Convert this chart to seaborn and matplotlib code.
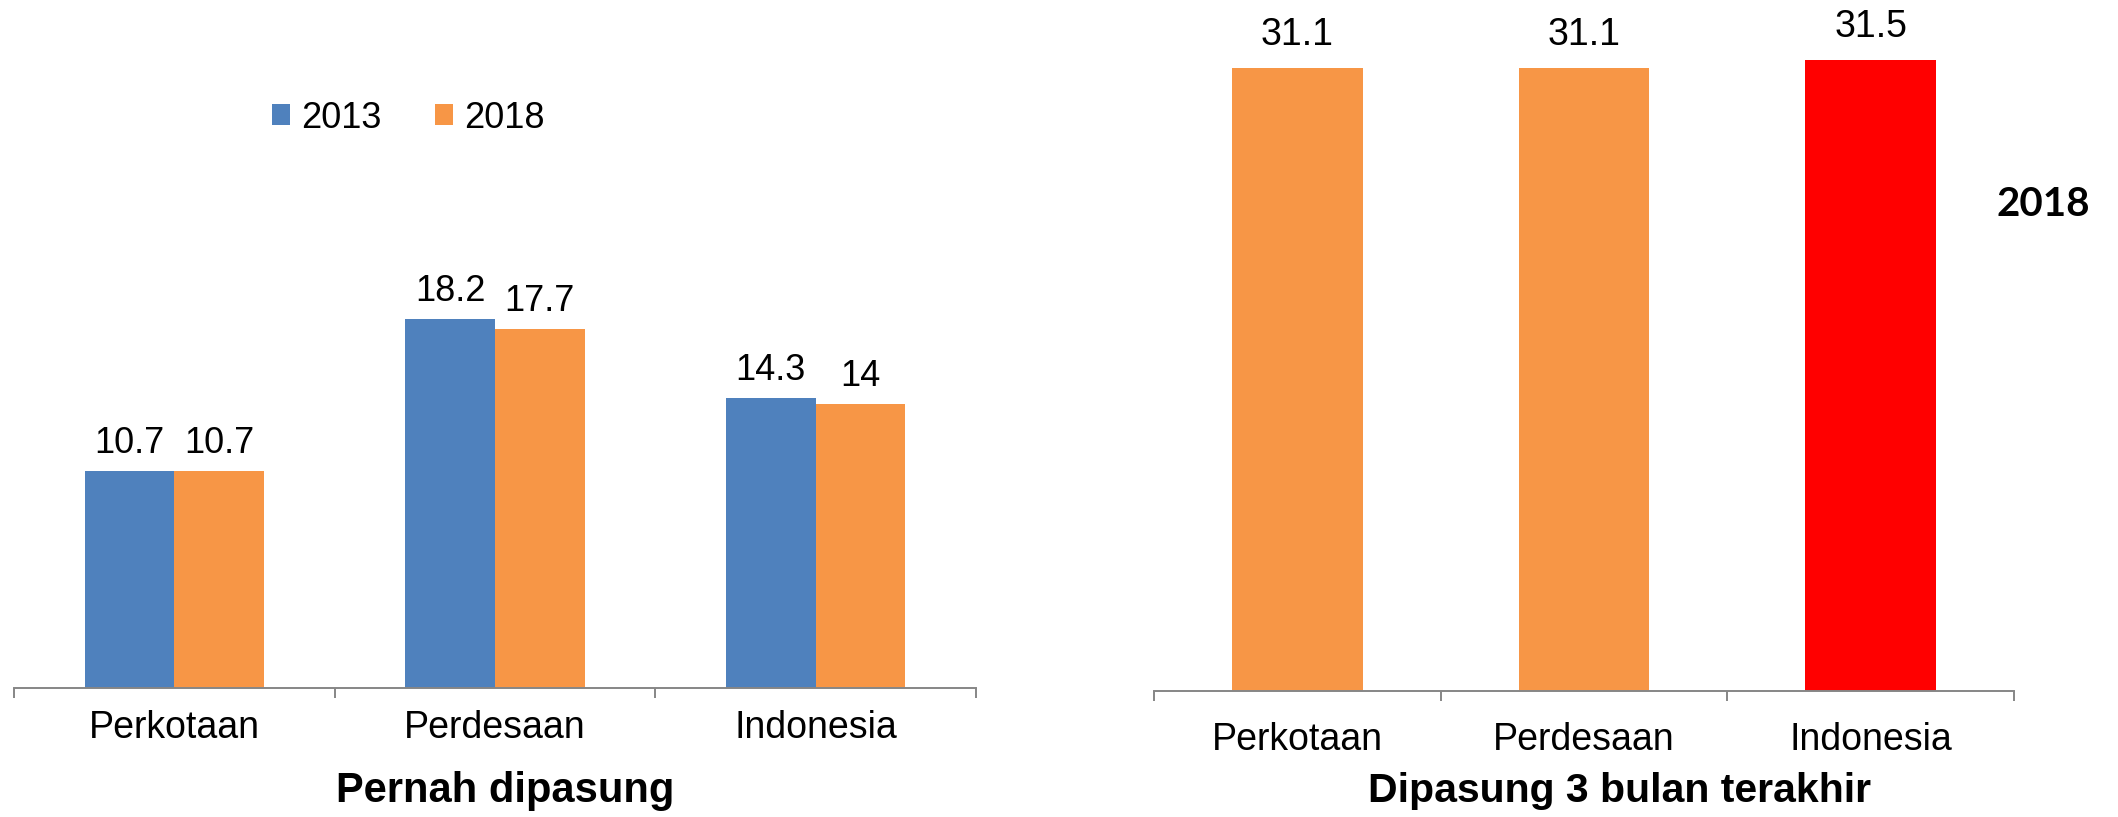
import pandas as pd
import seaborn as sns
import matplotlib
matplotlib.use('Agg')
import matplotlib.pyplot as plt

# data
wilayah = ["Perkotaan", "Perdesaan", "Indonesia"]
pernah_2013 = [10.7, 18.2, 14.3]
pernah_2018 = [10.7, 17.7, 14.0]
tiga_bulan_2018 = [31.1, 31.1, 31.5]
tahun = ["2013", "2018"]

biru = "#4F81BD"
oranye = "#F79646"
merah = "#FF0000"
abu = "#868686"

sns.set_style("white")
plt.rcParams['font.family'] = ['Liberation Sans', 'Arial', 'DejaVu Sans']
plt.rcParams['text.color'] = 'black'

pernah = pd.DataFrame({
    "wilayah": wilayah * 2,
    "tahun": [tahun[0]] * 3 + [tahun[1]] * 3,
    "persen": pernah_2013 + pernah_2018,
})
tiga_bulan = pd.DataFrame({"wilayah": wilayah, "persen": tiga_bulan_2018})

W, H = 2118, 817
fig = plt.figure(figsize=(W / 100, H / 100), dpi=100)

ax1 = fig.add_axes([14 / W, 129 / H, 962 / W, 629 / H])
ax2 = fig.add_axes([1154 / W, 126 / H, 860 / W, 681 / H])

sns.barplot(data=pernah, x="wilayah", y="persen", hue="tahun",
            palette=[biru, oranye], width=0.56, saturation=1, linewidth=0,
            ax=ax1)
sns.barplot(data=tiga_bulan, x="wilayah", y="persen", hue="wilayah",
            palette=[oranye, oranye, merah], width=0.455, saturation=1,
            linewidth=0, legend=False, ax=ax2)

ax1.set_ylim(0, 31)
ax2.set_ylim(0, 34)

for c in ax1.containers:
    ax1.bar_label(c, fmt="{:g}", padding=7, fontsize=26, color="black")
for c in ax2.containers:
    ax2.bar_label(c, fmt="{:g}", padding=11, fontsize=27, color="black")

for ax, pad in [(ax1, 16), (ax2, 22)]:
    ax.set_xlim(-0.5, 2.5)
    ax.set_xlabel("")
    ax.set_ylabel("")
    ax.set_yticks([])
    ax.set_xticks([-0.5, 0.5, 1.5, 2.5], ["", "", "", ""])
    ax.set_xticks([0, 1, 2], wilayah, minor=True)
    ax.tick_params(axis="x", which="major", bottom=True, direction="out",
                   length=7, width=1.4, color=abu)
    ax.tick_params(axis="x", which="minor", bottom=True, length=0, pad=pad,
                   labelsize=27, labelcolor="black")
    for s in ["top", "left", "right"]:
        ax.spines[s].set_visible(False)
    ax.spines["bottom"].set_color(abu)
    ax.spines["bottom"].set_linewidth(1.4)

handles, labels = ax1.get_legend_handles_labels()
ax1.legend(handles, labels, loc="center left",
           bbox_to_anchor=(272 / W, 1 - 118 / H), bbox_transform=fig.transFigure,
           ncol=2, frameon=False, fontsize=26, handlelength=0.5,
           handleheight=0.5, handletextpad=0.3, columnspacing=1.5,
           borderpad=0, borderaxespad=0, labelcolor="black")

fig.text(505 / W, 1 - 802 / H, "Pernah dipasung", ha="center",
         va="baseline", fontsize=30, fontweight="bold")
fig.text(1620 / W, 1 - 802 / H, "Dipasung 3 bulan terakhir", ha="center",
         va="baseline", fontsize=29.5, fontweight="bold")
fig.text(2043 / W, 1 - 216 / H, "2018", ha="center", va="baseline",
         fontsize=29, fontweight="bold", family=["Lato", "DejaVu Sans"])

fig.savefig("out.png", dpi=100)
